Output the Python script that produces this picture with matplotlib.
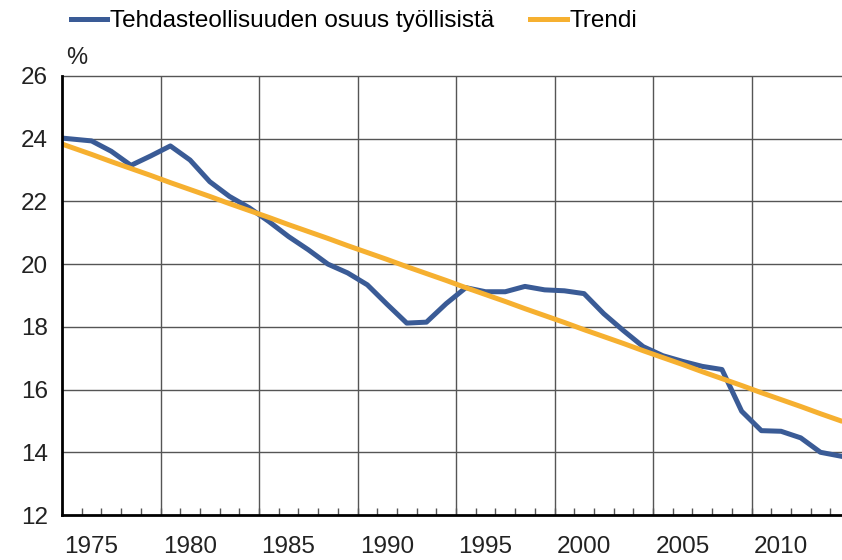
import matplotlib
matplotlib.use("Agg")
import matplotlib.pyplot as plt
from matplotlib.lines import Line2D

plt.rcParams['font.family'] = ['Liberation Sans', 'DejaVu Sans']

years = list(range(1973, 2014))
share = [24.05, 23.99, 23.93, 23.60, 23.15, 23.45, 23.77, 23.32, 22.63, 22.16,
         21.80, 21.36, 20.88, 20.46, 20.00, 19.72, 19.34, 18.72, 18.12, 18.15,
         18.74, 19.25, 19.12, 19.12, 19.29, 19.18, 19.15, 19.06, 18.42, 17.88,
         17.37, 17.08, 16.90, 16.74, 16.64, 15.31, 14.69, 14.67, 14.46, 14.00,
         13.88]
trend = [23.94, 23.72, 23.50, 23.27, 23.05, 22.83, 22.60, 22.38, 22.16, 21.93,
         21.71, 21.49, 21.26, 21.04, 20.82, 20.59, 20.37, 20.15, 19.92, 19.70,
         19.48, 19.25, 19.03, 18.81, 18.58, 18.36, 18.14, 17.91, 17.69, 17.47,
         17.24, 17.02, 16.80, 16.57, 16.35, 16.13, 15.90, 15.68, 15.46, 15.23,
         15.01]
label_years = [1975, 1980, 1985, 1990, 1995, 2000, 2005, 2010]
y_ticks = [12, 14, 16, 18, 20, 22, 24, 26]
series_names = ['Tehdasteollisuuden osuus työllisistä', 'Trendi']

blue = '#3A5B96'
orange = '#F6B030'
grid_c = '#555555'

fig = plt.figure(figsize=(8.42, 5.6), dpi=100)
ax = fig.add_axes([62/842, 1-515/560, 788/842, (515-76)/560])

ax.set_xlim(1973.5, 2013.5)
ax.set_ylim(12, 26)

# gridlines
for yv in y_ticks[1:]:
    ax.axhline(yv, color=grid_c, lw=1.0, zorder=1, clip_on=False)
for b in range(1978, 2013, 5):
    ax.axvline(b + 0.5, color=grid_c, lw=1.0, zorder=1)

ax.plot(years, share, color=blue, lw=3.6, solid_joinstyle='round', zorder=3)
ax.plot(years, trend, color=orange, lw=3.6, zorder=4)

ax.set_xticks(label_years)
ax.set_xticklabels([str(y) for y in label_years], fontsize=17.5, color='#222222')
ax.set_xticks([y + 0.5 for y in range(1973, 2014)], minor=True)
ax.tick_params(axis='x', which='major', length=0, pad=15)
ax.tick_params(axis='x', which='minor', direction='in', length=5, width=1, color=grid_c)
ax.set_yticks(y_ticks)
ax.set_yticklabels([str(v) for v in y_ticks], fontsize=17.5, color='#222222')
ax.tick_params(axis='y', length=0, pad=10)

for s in ['top', 'right']:
    ax.spines[s].set_visible(False)
ax.spines['left'].set_linewidth(2)
ax.spines['bottom'].set_linewidth(2)
ax.spines['left'].set_zorder(5)
ax.spines['bottom'].set_zorder(5)

fig.text(66/842, 1-58/560, '%', fontsize=17, color='#222222', va='center', ha='left')

handles = [Line2D([], [], color=blue, lw=3.6), Line2D([], [], color=orange, lw=3.6)]
fig.legend(handles, series_names, loc='center left', bbox_to_anchor=(71/842, 1-21/560),
           ncol=2, frameon=False, fontsize=17.5, handlelength=1.5, handletextpad=0.1,
           columnspacing=1.5, borderpad=0, borderaxespad=0)

fig.savefig('out.png', dpi=100)
